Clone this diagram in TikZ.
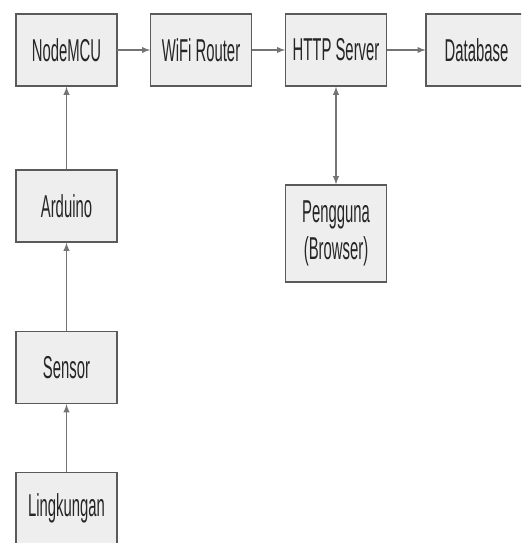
\documentclass[tikz,border=0pt]{standalone}
\usepackage{fontspec}
\setmainfont{Liberation Sans}
\usetikzlibrary{arrows}
\definecolor{boxfill}{HTML}{EEEEEE}
\definecolor{boxline}{HTML}{5A5A5A}
\definecolor{linegrey}{HTML}{747474}

\begin{document}
\begin{tikzpicture}[x=0.02cm,y=-0.02cm,
  blok/.style={draw=boxline,fill=boxfill,line width=0.8pt,xscale=0.47,
    minimum width=4.3cm,minimum height=1.44cm,inner sep=0pt,
    text=black!85,align=center,font=\fontsize{18}{21}\selectfont},
  conn/.style={draw=linegrey,line width=0.6pt,-latex}]
\useasboundingbox (0,0) rectangle (521,543);
\clip (0,0) rectangle (521,543);

\node[blok] (nodemcu) at (66.5,50) {NodeMCU};
\node[blok] (wifi) at (201,50) {WiFi Router};
\node[blok] (http) at (336,50) {HTTP Server};
\node[blok] (db) at (476.5,50) {Database};
\node[blok] (arduino) at (66.5,206) {Arduino};
\node[blok,minimum height=1.94cm] (user) at (336,233.5) {Pengguna\\(Browser)};
\node[blok] (sensor) at (66.5,367.5) {Sensor};
\node[blok] (env) at (66.5,508.5) {Lingkungan};

\draw[conn] (nodemcu) -- (wifi);
\draw[conn] (wifi) -- (http);
\draw[conn] (http) -- (db);
\draw[conn,latex-latex] (http) -- (user);
\draw[conn] (arduino) -- (nodemcu);
\draw[conn] (sensor) -- (arduino);
\draw[conn] (env) -- (sensor);
\end{tikzpicture}
\end{document}
